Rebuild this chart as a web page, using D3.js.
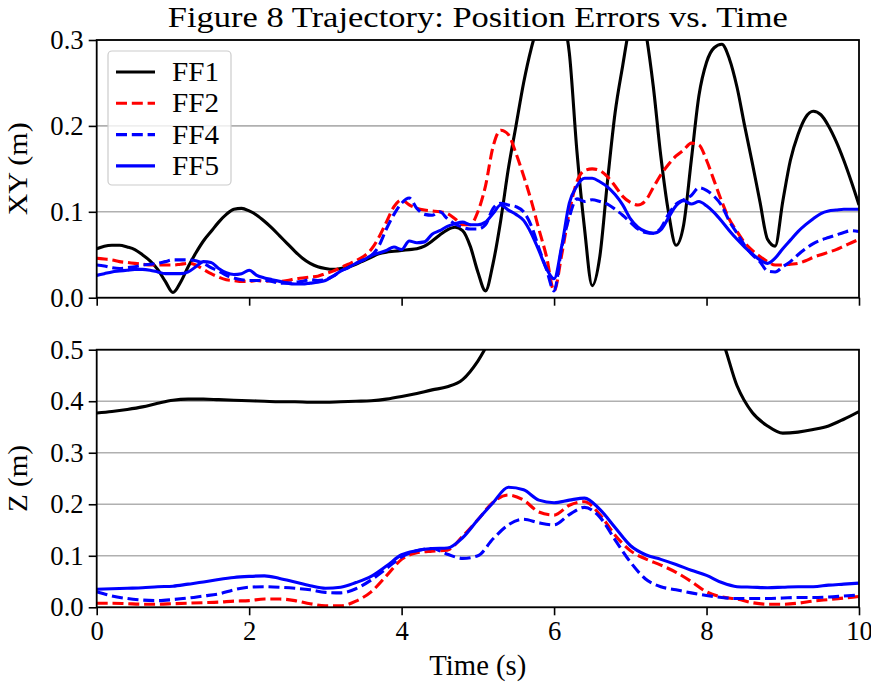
<!DOCTYPE html>
<html>
<head>
<meta charset="utf-8">
<script src="https://cdn.jsdelivr.net/npm/d3@7"></script>
<style>
  body { margin: 0; background: #fff; }
  svg { display: block; }
  text { font-family: "Liberation Serif", "Times New Roman", serif; fill: #000; }
</style>
</head>
<body>
<svg id="chart" width="871" height="683"></svg>
<script>
// ---- sample times (s) ----
const timeXY = [0,0.1,0.2,0.3,0.4,0.5,0.6,0.7,0.8,0.9,1,1.1,1.2,1.3,1.4,1.5,1.6,1.7,1.8,1.9,
  2,2.1,2.2,2.3,2.4,2.5,2.6,2.7,2.8,2.9,3,3.1,3.2,3.3,3.4,3.5,3.6,3.7,3.8,3.9,
  4,4.1,4.2,4.3,4.4,4.5,4.6,4.7,4.8,4.9,5,5.1,5.2,5.3,5.4,5.5,5.6,5.7,5.8,5.9,
  6,6.1,6.2,6.3,6.4,6.5,6.6,6.7,6.8,6.9,7,7.1,7.2,7.3,7.4,7.5,7.6,7.7,7.8,7.9,
  8,8.1,8.2,8.3,8.4,8.5,8.6,8.7,8.8,8.9,9,9.1,9.2,9.3,9.4,9.5,9.6,9.7,9.8,9.9,10];

// ---- XY position error (m) ----
const xyFF1 = [0.057,0.060,0.061,0.061,0.059,0.056,0.050,0.043,0.033,0.019,
  0.006,0.018,0.036,0.052,0.066,0.077,0.088,0.097,0.103,0.104,
  0.101,0.096,0.089,0.081,0.072,0.063,0.054,0.046,0.040,0.036,
  0.034,0.033,0.034,0.036,0.039,0.043,0.047,0.051,0.053,0.054,
  0.055,0.056,0.057,0.060,0.066,0.073,0.079,0.082,0.078,0.060,
  0.030,0.008,0.040,0.090,0.150,0.200,0.250,0.290,0.320,0.340,
  0.345,0.330,0.285,0.170,0.080,0.014,0.048,0.135,0.215,0.270,
  0.320,0.340,0.310,0.247,0.165,0.100,0.061,0.085,0.160,0.235,
  0.274,0.291,0.295,0.278,0.245,0.200,0.157,0.112,0.068,0.060,
  0.112,0.160,0.190,0.210,0.217,0.213,0.200,0.182,0.160,0.135,0.108];

const xyFF2 = [0.046,0.045,0.044,0.042,0.041,0.040,0.039,0.038,0.038,0.038,
  0.038,0.039,0.040,0.038,0.033,0.028,0.024,0.021,0.020,0.019,
  0.019,0.020,0.019,0.020,0.019,0.020,0.022,0.023,0.024,0.025,
  0.028,0.031,0.035,0.039,0.043,0.048,0.056,0.070,0.088,0.106,
  0.114,0.108,0.104,0.102,0.101,0.100,0.098,0.092,0.085,0.085,
  0.100,0.130,0.176,0.195,0.190,0.168,0.142,0.113,0.080,0.048,
  0.008,0.050,0.100,0.135,0.148,0.150,0.148,0.141,0.130,0.118,
  0.111,0.108,0.113,0.128,0.143,0.155,0.165,0.172,0.180,0.178,
  0.160,0.136,0.112,0.091,0.077,0.064,0.055,0.048,0.042,0.038,
  0.038,0.039,0.040,0.043,0.047,0.050,0.053,0.056,0.060,0.064,0.068];

const xyFF4 = [0.038,0.037,0.035,0.034,0.035,0.036,0.038,0.039,0.040,0.042,
  0.044,0.044,0.044,0.043,0.040,0.035,0.031,0.026,0.023,0.021,
  0.020,0.020,0.020,0.019,0.017,0.017,0.018,0.019,0.021,0.020,
  0.021,0.025,0.031,0.035,0.040,0.044,0.049,0.060,0.080,0.097,
  0.110,0.116,0.104,0.097,0.096,0.100,0.092,0.086,0.082,0.080,
  0.080,0.085,0.104,0.110,0.108,0.106,0.100,0.084,0.058,0.033,
  0.008,0.058,0.094,0.115,0.112,0.114,0.112,0.109,0.103,0.096,
  0.088,0.080,0.076,0.075,0.081,0.097,0.109,0.114,0.119,0.128,
  0.125,0.118,0.107,0.089,0.075,0.061,0.050,0.042,0.031,0.030,
  0.036,0.042,0.050,0.057,0.063,0.067,0.070,0.073,0.076,0.078,0.077];

const xyFF5 = [0.026,0.028,0.030,0.031,0.032,0.033,0.033,0.032,0.030,0.028,
  0.028,0.028,0.030,0.036,0.042,0.041,0.034,0.029,0.027,0.028,
  0.032,0.026,0.023,0.021,0.019,0.017,0.016,0.016,0.017,0.018,
  0.020,0.025,0.031,0.035,0.040,0.044,0.049,0.052,0.055,0.059,
  0.056,0.066,0.064,0.065,0.074,0.078,0.083,0.086,0.088,0.085,
  0.085,0.088,0.098,0.108,0.102,0.097,0.090,0.075,0.055,0.034,
  0.022,0.060,0.110,0.130,0.139,0.139,0.135,0.129,0.120,0.108,
  0.092,0.082,0.077,0.075,0.079,0.093,0.107,0.113,0.109,0.112,
  0.107,0.099,0.089,0.078,0.068,0.059,0.051,0.044,0.040,0.046,
  0.057,0.067,0.077,0.085,0.092,0.098,0.101,0.102,0.103,0.103,0.103];

const timeZ = [0,0.2,0.4,0.6,0.8,1,1.2,1.4,1.6,1.8,2,2.2,2.4,2.6,2.8,3,3.2,3.4,3.6,3.8,
  4,4.2,4.4,4.6,4.8,5,5.2,5.4,5.6,5.8,6,6.2,6.4,6.6,6.8,7,7.2,7.4,7.6,7.8,
  8,8.2,8.4,8.6,8.8,9,9.2,9.4,9.6,9.8,10];

// ---- Z position error (m) ----
const zFF1 = [0.377,0.380,0.384,0.389,0.396,0.402,0.404,0.404,0.403,0.402,
  0.401,0.400,0.399,0.399,0.398,0.398,0.399,0.400,0.401,0.404,
  0.409,0.415,0.422,0.428,0.442,0.478,0.530,0.580,0.620,0.650,
  0.670,0.680,0.690,0.690,0.680,0.670,0.660,0.640,0.620,0.590,
  0.560,0.520,0.430,0.378,0.352,0.338,0.340,0.345,0.352,0.365,0.380];

const zFF2 = [0.008,0.008,0.007,0.006,0.006,0.007,0.008,0.009,0.010,0.012,
  0.013,0.016,0.016,0.013,0.007,0.003,0.003,0.012,0.030,0.061,
  0.093,0.106,0.109,0.111,0.138,0.170,0.204,0.218,0.208,0.185,
  0.179,0.198,0.205,0.180,0.140,0.110,0.094,0.082,0.068,0.050,
  0.030,0.020,0.016,0.009,0.006,0.006,0.008,0.012,0.015,0.018,0.021];

const zFF4 = [0.030,0.022,0.017,0.014,0.013,0.015,0.018,0.022,0.026,0.034,
  0.039,0.040,0.039,0.037,0.034,0.029,0.028,0.036,0.053,0.075,
  0.098,0.110,0.114,0.103,0.095,0.100,0.133,0.160,0.171,0.164,
  0.160,0.180,0.194,0.175,0.131,0.088,0.055,0.040,0.034,0.028,
  0.023,0.019,0.017,0.017,0.017,0.018,0.019,0.019,0.020,0.022,0.024];

const zFF5 = [0.035,0.036,0.037,0.038,0.040,0.041,0.045,0.049,0.054,0.058,
  0.060,0.061,0.056,0.049,0.042,0.037,0.039,0.048,0.060,0.080,
  0.102,0.110,0.114,0.115,0.135,0.170,0.203,0.233,0.228,0.208,
  0.203,0.208,0.212,0.190,0.155,0.120,0.102,0.093,0.083,0.072,
  0.062,0.048,0.040,0.039,0.038,0.039,0.040,0.040,0.043,0.045,0.047];

// ---- labels, ticks, styles ----
const seriesNames = ["FF1", "FF2", "FF4", "FF5"];
const seriesColors = ["#000000", "#ff0000", "#0000ff", "#0000ff"];
const seriesDashed = [false, true, true, false];
const xTicks = [0, 2, 4, 6, 8, 10];
const xyTicks = [0.0, 0.1, 0.2, 0.3];
const zTicks = [0.0, 0.1, 0.2, 0.3, 0.4, 0.5];
const titleText = "Figure 8 Trajectory: Position Errors vs. Time";
const xLabelText = "Time (s)";

const TICK_FONT = 26.7;
const svg = d3.select("#chart");
const plotLeft = 96.7, plotRight = 859;
const x = d3.scaleLinear().domain([0, 10]).range([plotLeft, plotRight]);

const panels = [
  { id: "xy", top: 40, bottom: 297.7, domain: [0, 0.3], ticks: xyTicks, label: "XY (m)", labelLen: 93,
    time: timeXY, values: [xyFF1, xyFF2, xyFF4, xyFF5], xLabels: false },
  { id: "z", top: 349.7, bottom: 607.3, domain: [0, 0.5], ticks: zTicks, label: "Z (m)", labelLen: 67,
    time: timeZ, values: [zFF1, zFF2, zFF4, zFF5], xLabels: true }
];

const defs = svg.append("defs");

panels.forEach(p => {
  const y = d3.scaleLinear().domain(p.domain).range([p.bottom, p.top]);
  const g = svg.append("g");

  defs.append("clipPath").attr("id", "clip-" + p.id)
    .append("rect").attr("x", plotLeft).attr("y", p.top)
    .attr("width", plotRight - plotLeft).attr("height", p.bottom - p.top);

  // horizontal grid
  g.append("g").selectAll("line").data(p.ticks).join("line")
    .attr("x1", plotLeft).attr("x2", plotRight)
    .attr("y1", d => y(d)).attr("y2", d => y(d))
    .attr("stroke", "#b0b0b0").attr("stroke-width", 1.6);

  // series
  const lines = g.append("g").attr("clip-path", `url(#clip-${p.id})`);
  p.values.forEach((vals, i) => {
    const pts = p.time.map((t, k) => [t, vals[k]]);
    lines.append("path")
      .datum(pts)
      .attr("fill", "none")
      .attr("stroke", seriesColors[i])
      .attr("stroke-width", 3.1)
      .attr("stroke-linejoin", "round")
      .attr("stroke-dasharray", seriesDashed[i] ? "11,4.8" : null)
      .attr("d", d3.line().x(d => x(d[0])).y(d => y(d[1])).curve(d3.curveMonotoneX));
  });

  // axes
  const yAxis = d3.axisLeft(y).tickValues(p.ticks).tickFormat(d3.format(".1f"))
    .tickSize(8).tickPadding(5);
  const ya = g.append("g").attr("transform", `translate(${plotLeft},0)`).call(yAxis);
  const xAxis = d3.axisBottom(x).tickValues(xTicks).tickFormat(p.xLabels ? d3.format("d") : () => "")
    .tickSize(8).tickPadding(6);
  const xa = g.append("g").attr("transform", `translate(0,${p.bottom})`).call(xAxis);
  [ya, xa].forEach(a => {
    a.select(".domain").remove();
    a.selectAll(".tick line").attr("stroke", "#000").attr("stroke-width", 1.6);
    a.selectAll(".tick text").attr("font-size", TICK_FONT)
      .attr("font-family", "Liberation Serif").attr("fill", "#000");
  });

  // frame
  g.append("rect").attr("x", plotLeft).attr("y", p.top)
    .attr("width", plotRight - plotLeft).attr("height", p.bottom - p.top)
    .attr("fill", "none").attr("stroke", "#000").attr("stroke-width", 1.8);

  // y label
  g.append("text")
    .attr("transform", `translate(27,${(p.top + p.bottom) / 2}) rotate(-90)`)
    .attr("text-anchor", "middle").attr("font-size", 27.6)
    .attr("textLength", p.labelLen).attr("lengthAdjust", "spacingAndGlyphs")
    .text(p.label);
});

// title
svg.append("text").attr("x", (plotLeft + plotRight) / 2).attr("y", 27.3)
  .attr("text-anchor", "middle").attr("font-size", 30)
  .attr("textLength", 620).attr("lengthAdjust", "spacingAndGlyphs")
  .text(titleText);

// x label
svg.append("text").attr("x", (plotLeft + plotRight) / 2).attr("y", 675)
  .attr("text-anchor", "middle").attr("font-size", 30)
  .attr("textLength", 97).attr("lengthAdjust", "spacingAndGlyphs")
  .text(xLabelText);

// legend
const legend = svg.append("g");
legend.append("rect").attr("x", 108).attr("y", 51).attr("width", 123).attr("height", 134)
  .attr("rx", 4).attr("fill", "#fff").attr("fill-opacity", 0.8)
  .attr("stroke", "#cccccc").attr("stroke-width", 1.2);
seriesNames.forEach((name, i) => {
  const cy = 72 + i * 31.3;
  legend.append("line").attr("x1", 116).attr("x2", 155).attr("y1", cy).attr("y2", cy)
    .attr("stroke", seriesColors[i]).attr("stroke-width", 3.1)
    .attr("stroke-dasharray", seriesDashed[i] ? "11,4.8" : null);
  legend.append("text").attr("x", 172).attr("y", cy + 9).attr("font-size", TICK_FONT)
    .attr("textLength", 47).attr("lengthAdjust", "spacingAndGlyphs").text(name);
});
</script>
</body>
</html>
